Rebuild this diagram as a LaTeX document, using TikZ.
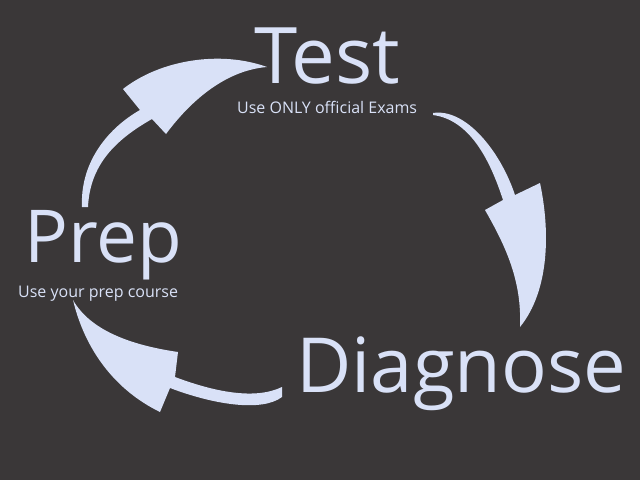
\documentclass[tikz,border=0pt]{standalone}
\usepackage{fontspec}
\setmainfont{Open Sans}
\usepackage{tikz}
\definecolor{board}{RGB}{58,55,56}
\definecolor{chalk}{RGB}{217,225,247}
\tikzstyle{bigword} = [inner sep=0pt, anchor=base west, text=chalk]
\tikzstyle{note} = [inner sep=0pt, anchor=base west, text=chalk, font=\fontsize{16}{18}\selectfont]
\tikzstyle{swoosh} = [fill=chalk, draw=none]

\begin{document}
\begin{tikzpicture}[x=1pt,y=-1pt]
        \fill[board] (0,0) rectangle (640,480);
        \useasboundingbox (0,0) rectangle (640,480);
        % the three steps
        \path[] node[bigword,font=\fontsize{78}{90}\selectfont] (test) at (254,83) {Test};
        \path[] node[note] (testnote) at (237,113) {Use ONLY official Exams};
        \path[] node[bigword,font=\fontsize{73}{80}\selectfont] (prep) at (24,262) {Prep};
        \path[] node[note] (prepnote) at (18,297) {Use your prep course};
        \path[] node[bigword,font=\fontsize{76}{80}\selectfont] (diagnose) at (296,392) {Diagnose};
        % prep -> test
        \path[swoosh] (82,207) .. controls (80,165) and (105,130) .. (140,110) -- (123,89)
          .. controls (160,60) and (220,50) .. (267,67)
          .. controls (230,70) and (195,95) .. (166,134) -- (152,119)
          .. controls (115,140) and (90,165) .. (88,207) -- cycle;
        % test -> diagnose
        \path[swoosh] (433,113) .. controls (465,108) and (500,150) .. (515,195) -- (540,183)
          .. controls (550,230) and (550,290) .. (520,327)
          .. controls (522,280) and (505,245) .. (485,210) -- (503,200)
          .. controls (490,160) and (470,120) .. (433,115) -- cycle;
        % diagnose -> prep
        \path[swoosh] (282,387) .. controls (255,400) and (215,392) .. (175,377) -- (178,352)
          .. controls (130,345) and (90,330) .. (73,300)
          .. controls (85,350) and (115,390) .. (160,412) -- (170,388)
          .. controls (215,405) and (262,412) .. (282,397) -- cycle;
      \end{tikzpicture}
\end{document}
